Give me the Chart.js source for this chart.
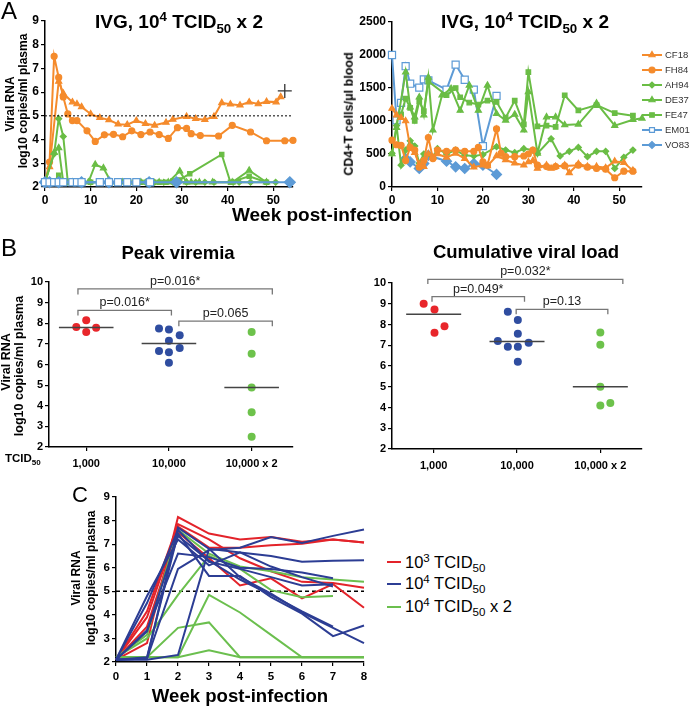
<!DOCTYPE html>
<html>
<head>
<meta charset="utf-8">
<script src="https://cdn.jsdelivr.net/npm/chart.js@4.4.1/dist/chart.umd.min.js"></script>
<style>
body { margin: 0; background: #fff; font-family: "Liberation Sans", Arial, sans-serif; }
#wrap { position: relative; width: 691px; height: 707px; overflow: hidden; }
canvas { position: absolute; }
.t { position: absolute; white-space: nowrap; color: #000; line-height: 1; }
.b { font-weight: bold; }
.c { transform: translateX(-50%); }
.r { transform: translate(-50%, -50%) rotate(-90deg); }
sup, sub { font-size: 0.7em; line-height: 0; }
.sw { position: absolute; width: 14px; height: 1.6px; }
</style>
</head>
<body>
<div id="wrap">
  <canvas id="aLeft"></canvas>
  <canvas id="aRight"></canvas>
  <canvas id="bLeft"></canvas>
  <canvas id="bRight"></canvas>
  <canvas id="cLines"></canvas>

  <div class="t" style="left:1px;top:-1px;font-size:24px;">A</div>
  <div class="t b c" style="left:179px;top:12px;font-size:19px;">IVG, 10<sup>4</sup> TCID<sub>50</sub> x 2</div>
  <div class="t b c" style="left:525px;top:12px;font-size:19px;">IVG, 10<sup>4</sup> TCID<sub>50</sub> x 2</div>
  <div class="t b r" style="left:10px;top:104px;font-size:12px;">Viral RNA</div>
  <div class="t b r" style="left:23px;top:101px;font-size:12px;">log10 copies/ml plasma</div>
  <div class="t b r" style="left:349px;top:114px;font-size:12.5px;">CD4+T cells/μl blood</div>
  <div class="t b c" style="left:322px;top:205px;font-size:19px;">Week post-infection</div>

  <div class="t" style="left:1px;top:236px;font-size:24px;">B</div>
  <div class="t b c" style="left:178px;top:244px;font-size:18.5px;">Peak viremia</div>
  <div class="t b c" style="left:526px;top:243px;font-size:18.5px;">Cumulative viral load</div>
  <div class="t b r" style="left:6px;top:362px;font-size:12.5px;">Viral RNA</div>
  <div class="t b r" style="left:19px;top:366px;font-size:12.5px;">log10 copies/ml plasma</div>
  <div class="t b" style="left:5px;top:453px;font-size:11.5px;">TCID<sub>50</sub></div>

  <div class="t" style="left:72px;top:484px;font-size:22px;">C</div>
  <div class="t b r" style="left:76px;top:578px;font-size:12px;">Viral RNA</div>
  <div class="t b r" style="left:91px;top:578px;font-size:12px;">log10 copies/ml plasma</div>
  <div class="t b c" style="left:240px;top:687px;font-size:18.6px;">Week post-infection</div>
  <div class="sw" style="left:387px;top:561px;background:#E3232A;"></div>
  <div class="t" style="left:405px;top:554px;font-size:16.5px;">10<sup>3</sup> TCID<sub>50</sub></div>
  <div class="sw" style="left:387px;top:583px;background:#2C3D94;"></div>
  <div class="t" style="left:405px;top:575px;font-size:16.5px;">10<sup>4</sup> TCID<sub>50</sub></div>
  <div class="sw" style="left:387px;top:606px;background:#6BBF4E;"></div>
  <div class="t" style="left:405px;top:598px;font-size:16.5px;">10<sup>4</sup> TCID<sub>50</sub> x 2</div>
</div>

<script>
// ---- A left: viral load per animal, [week, log10 copies/ml]
const vlCF18 = [[0,2.2],[1,2.85],[3,6.45],[4,5.95],[6,5.58],[7,5.5],[8,5.38],[10,5.08],[12,4.92],[14,4.83],[16,4.65],[18,4.63],[20,4.8],[22,4.67],[24,4.6],[26.5,4.72],[28,4.85],[31,4.97],[33,4.88],[35,4.84],[37,4.97],[38.7,5.55],[40.6,5.49],[42.7,5.45],[44.7,5.58],[46.7,5.5],[48.5,5.6],[50.6,5.58],[51.6,5.8]];
const vlCF18End = [[52.5,6.05]];
const vlFH84 = [[0,2.2],[1,3.05],[2,7.51],[3,6.62],[4,5.8],[5,5.08],[6,4.8],[7,4.8],[9.2,4.37],[11,3.92],[13,4.2],[15,4.22],[17,4.12],[19,4.37],[21,4.21],[23,4.32],[25,4.21],[27,4.05],[29,4.5],[31,4.47],[32,4.25],[34,4.17],[38,4.15],[41,4.6],[45,4.32],[48.5,3.95],[52.5,3.95],[54.3,3.97]];
const vlAH94 = [[0,2.2],[2,3.4],[3,4.88],[4,4.13],[5,2.2],[6,2.2],[7,2.2],[8,2.2],[10,2.2],[12,2.2],[14,2.2],[16,2.2],[18,2.2],[20,2.2],[22,2.2],[24,2.2],[26,2.2],[28,2.2],[31,2.2],[33,2.2],[35,2.2],[37,2.2],[41.2,2.2],[42.5,2.2],[45,2.2],[48.5,2.2],[50.5,2.2]];
const vlDE37 = [[0,2.2],[2,3.45],[3,3.65],[4,2.2],[5,2.2],[6,2.2],[8,2.2],[9.5,2.2],[11,2.95],[12.8,2.8],[14.5,2.2],[17,2.2],[21,2.2],[25,2.2],[27,2.2],[29.5,2.67],[31,2.2],[32,2.2],[33.8,2.2],[36.7,2.2],[41,2.2],[44.7,2.7],[48.5,2.2]];
const vlFE47 = [[0,2.2],[2,2.2],[3,2.5],[4,2.2],[5,2.2],[6,2.2],[7,2.2],[8,2.2],[10,2.2],[12,2.2],[14,2.2],[16,2.2],[18,2.2],[19.5,2.2],[21,2.2],[23,2.2],[25,2.2],[26.5,2.2],[28,2.25],[29.5,2.3],[31.7,2.56],[38.7,3.37],[40.6,2.2],[44.7,2.45],[48.5,2.2]];
const vlEM01 = [[0,2.2],[1,2.2],[2,2.2],[3,2.2],[4,2.2],[6,2.2],[7,2.2],[8,2.2],[12,2.2],[14,2.2],[16,2.2],[18,2.2],[20,2.2],[23,2.2]];
const vlVO83 = [[0,2.2],[1,2.2],[3,2.2],[8,2.2],[14,2.2],[22.8,2.2],[28.8,2.2],[53.6,2.2]];
const vlThreshold = 5;

// ---- A right: CD4+ T cells/ul, [week, count]
const cdCF18 = [[0,1190],[1,1090],[2,1050],[3,1000],[4,600],[5,520],[6,340],[7,310],[8,500],[9,450],[10,500],[12,450],[14,510],[16,430],[18,300],[20,330],[21,320],[23,470],[25,410],[27,360],[29,330],[30,380],[31,400],[32,280],[34,330],[35,280],[36,310],[38,330],[39,215],[41,350],[43,310],[45,310],[47,290],[49,390],[51,370],[53,250]];
const cdFH84 = [[0,710],[1,640],[2,630],[3,400],[4,600],[5,560],[6,300],[7,400],[8,750],[9,430],[10,560],[12,540],[14,560],[16,540],[18,540],[19,600],[20,380],[21,330],[23,880],[24,510],[25,460],[27,460],[29,470],[30,500],[31,560],[32,330],[34,310],[36,310],[38,320],[41,330],[43,300],[45,280],[47,270],[49,140],[51,240],[53,240]];
const cdAH94 = [[0,510],[1,930],[2,330],[3,560],[4,700],[5,620],[6,360],[7,500],[9,450],[10,580],[12,500],[14,560],[16,480],[18,470],[20,490],[23,610],[25,560],[27,520],[29,580],[31,560],[32,510],[35,730],[37,470],[39,540],[41,600],[43,460],[45,540],[47,540],[49,280],[51,450],[53,560]];
const cdDE37 = [[0,500],[1,900],[3,1740],[4,1210],[5,1060],[6,1360],[7,1090],[8,1660],[9,860],[11,1390],[13,1490],[15,1160],[17,1540],[19,1160],[21,1540],[23,1110],[25,1010],[27,1100],[29,860],[30,1440],[32,510],[34,1060],[36,1060],[38,940],[41,950],[45,1270],[49,930],[53,1020],[55,1040]];
const cdFE47 = [[2,1100],[3,1340],[4,1200],[5,1000],[6,1300],[7,1150],[8,1600],[12,1390],[14,1500],[15,1360],[17,1280],[19,1250],[21,1310],[23,1290],[25,1050],[27,1310],[29,950],[30,1740],[32,920],[34,930],[36,910],[38,1390],[41,1160],[45,1240],[49,1120],[53,1080]];
const cdEM01 = [[0,2000],[1,1010],[2,1275],[3,1830],[4,1565],[6,1505],[7,1630],[8,1615],[12,1475],[14,1855],[16,1625],[18,1475],[20,620],[23,1380]];
const cdVO83 = [[3,430],[4,380],[6,280],[7,355],[8,480],[12,390],[14,305],[16,280],[18,355],[20,330],[23,190]];

// ---- B: dose groups, jittered dots, medians and p-value brackets
const doseLabels = ['1,000', '10,000', '10,000 x 2'];
const peakLow = [7.82, 8.15, 7.57, 7.78];
const peakLowJit = [-0.12, 0, 0, 0.12];
const peakMid = [7.75, 7.7, 7.15, 7.42, 6.65, 6.6, 6.8, 6.08];
const peakMidJit = [-0.12, 0, 0, 0.13, -0.12, 0, 0.13, 0];
const peakHigh = [7.57, 6.52, 4.88, 3.68, 2.5];
const peakHighJit = [0, 0, 0, 0, 0];
const peakMedians = [7.8, 7.02, 4.88];
const peakTests = [
  { from: 0.9, to: 3.25, level: 9.67, drop: 0.27, text: 'p=0.016*' },
  { from: 0.9, to: 2.03, level: 8.62, drop: 0.24, text: 'p=0.016*' },
  { from: 2.12, to: 3.25, level: 8.1, drop: 0.25, text: 'p=0.065' }
];
const cumLow = [9.0, 8.72, 7.6, 7.92];
const cumLowJit = [-0.12, 0.01, 0.01, 0.13];
const cumMid = [8.62, 8.22, 7.55, 7.2, 6.93, 6.93, 7.12, 6.2];
const cumMidJit = [-0.11, 0.01, 0.01, -0.23, -0.11, 0.01, 0.14, 0.01];
const cumHigh = [7.62, 7.02, 5.0, 4.1, 4.22];
const cumHighJit = [0, 0, 0, 0, 0.12];
const cumMedians = [8.5, 7.18, 5.0];
const cumTests = [
  { from: 0.93, to: 3.27, level: 10.17, drop: 0.22, text: 'p=0.032*' },
  { from: 0.98, to: 2.09, level: 9.34, drop: 0.24, text: 'p=0.049*' },
  { from: 1.99, to: 3.09, level: 8.73, drop: 0.23, text: 'p=0.13' }
];

// ---- C: first 8 weeks, one row per animal
const cWeeks = [0, 1, 2, 3, 4, 5, 6, 7, 8];
const cLowDose = [
  [2.1, 2.8, 8.15, 7.45, 7.2, 7.3, 7.1, 7.2, 7.07],
  [2.1, 3.9, 7.75, 6.85, 6.85, 6.95, 7.02, 7.2, 7.07],
  [2.1, 4.15, 7.85, 7.2, 6.4, 5.85, 5.4, 5.35, 5.15],
  [2.1, 3.5, 7.5, 6.4, 5.25, 5.55, 4.7, 5.3, 4.3]
];
const cMidDose = [
  [2.1, 2.15, 7.7, 6.8, 6.65, 6.5, 6.25, 6.3, 6.32],
  [2.1, 4.8, 7.2, 6.1, 6.65, 6.05, 5.6, 5.2],
  [2.1, 3.35, 6.6, 6.45, 6.0, 5.95, 5.8, 5.55],
  [2.1, 2.15, 5.95, 6.75, 6.85, 7.3, 7.05, 7.35, 7.62],
  [2.1, 2.1, 2.3, 6.8, 5.6, 4.9, 4.1, 3.45, 2.8],
  [2.1, 2.2, 7.45, 5.65, 5.65, 4.75, 4.05, 3.1, 3.55],
  [2.1, 4.5, 7.6, 6.25, 5.95, 5.6, 5.25, 5.3],
  [2.1, 3.3, 7.35, 6.3, 5.5, 4.85, 4.15, 3.5]
];
const cHighDose = [
  [2.2, 3.15, 7.6, 6.6, 6.05, 5.85, 5.6, 5.5, 5.4],
  [2.2, 3.0, 4.85, 6.5, 5.95, 5.05, 4.75, 4.8],
  [2.2, 2.2, 3.45, 3.68, 2.2, 2.2, 2.2, 2.2, 2.2],
  [2.2, 2.2, 2.2, 4.85, 4.1, 3.15, 2.2, 2.2, 2.2],
  [2.2, 2.2, 2.2, 2.5, 2.2, 2.2, 2.2, 2.2, 2.2]
];

const ORANGE = '#F58B2C', GREEN = '#6ABD45', LBLUE = '#5D9BD6';
const FONT = '"Liberation Sans", Arial, sans-serif';
Chart.defaults.font.family = FONT;
Chart.defaults.color = '#000';

const pts = arr => arr.map(p => ({ x: p[0], y: p[1] }));

function axis(min, max, step, size, extra) {
  return Object.assign({
    type: 'linear', min: min, max: max,
    border: { display: true, color: '#000', width: 1.5 },
    grid: { display: true, drawOnChartArea: false, drawTicks: true, tickLength: 4, color: '#000', lineWidth: 1.2 },
    ticks: { stepSize: step, includeBounds: false, autoSkip: false, maxRotation: 0, padding: 2,
             color: '#000', font: { size: size, weight: 'bold' }, callback: v => String(v) }
  }, extra || {});
}

function mount(id, area, padT, padR, xH, config) {
  const yW = 45;
  const cv = document.getElementById(id);
  cv.width = area.r - area.l + yW + padR;
  cv.height = area.b - area.t + padT + xH;
  cv.style.left = (area.l - yW) + 'px';
  cv.style.top = (area.t - padT) + 'px';
  const o = config.options;
  o.responsive = false;
  o.devicePixelRatio = 1;
  o.animation = false;
  o.layout = { padding: { top: padT, right: padR, left: 0, bottom: 0 } };
  o.plugins = Object.assign({ legend: { display: false }, tooltip: { enabled: false } }, o.plugins || {});
  o.scales.x.afterFit = s => { s.height = xH; };
  o.scales.y.afterFit = s => { s.width = yW; };
  return new Chart(cv, config);
}

function animal(label, data, color, style, r, fill) {
  return {
    label: label, data: pts(data), showLine: true, tension: 0, clip: false,
    borderColor: color, backgroundColor: color, borderWidth: 2,
    pointStyle: style, pointRadius: r, pointBackgroundColor: fill || color,
    pointBorderColor: color, pointBorderWidth: 1.2
  };
}

// ---------- A left
mount('aLeft', { l: 45, r: 293, t: 21, b: 187 }, 12, 14, 24, {
  type: 'scatter',
  data: { datasets: [
    { data: pts([[0, vlThreshold], [54.3, vlThreshold]]), showLine: true, borderColor: '#000',
      borderWidth: 1, borderDash: [2, 2], pointRadius: 0 },
    animal('EM01', vlEM01, LBLUE, 'rect', 5, '#fff'),
    animal('VO83', vlVO83, LBLUE, 'rectRot', 5.5),
    animal('FE47', vlFE47, GREEN, 'rect', 3),
    animal('DE37', vlDE37, GREEN, 'triangle', 3.5),
    animal('AH94', vlAH94, GREEN, 'rectRot', 3),
    animal('FH84', vlFH84, ORANGE, 'circle', 3),
    animal('CF18', vlCF18, ORANGE, 'triangle', 3.5),
    { data: pts(vlCF18End), pointStyle: 'cross', pointRadius: 7, pointBorderColor: '#333',
      pointBorderWidth: 1.3, clip: false }
  ] },
  options: { scales: {
    x: axis(0, 54.3, 10, 12),
    y: axis(2, 9, 1, 12)
  } }
});

// ---------- A right (with side legend)
const sideLegend = {
  id: 'sideLegend',
  afterDraw(chart) {
    const ctx = chart.ctx, a = chart.chartArea;
    const y0 = chart.scales.y.getPixelForValue(2000);
    chart.data.datasets.forEach((ds, i) => {
      const y = y0 + i * 15, x0 = a.right, x1 = a.right + 20;
      ctx.save();
      ctx.strokeStyle = ds.borderColor; ctx.lineWidth = 2;
      ctx.beginPath(); ctx.moveTo(x0, y); ctx.lineTo(x1, y); ctx.stroke();
      ctx.fillStyle = ds.pointBackgroundColor; ctx.strokeStyle = ds.pointBorderColor; ctx.lineWidth = 1.2;
      Chart.helpers.drawPoint(ctx, { pointStyle: ds.pointStyle, radius: Math.min(ds.pointRadius, 3.5), borderWidth: 1.2, rotation: 0 }, (x0 + x1) / 2, y);
      ctx.fillStyle = '#333'; ctx.font = '9.5px ' + FONT; ctx.textBaseline = 'middle';
      ctx.fillText(ds.label, x1 + 3, y + 0.5);
      ctx.restore();
    });
  }
};
mount('aRight', { l: 392, r: 642, t: 22, b: 187 }, 12, 49, 24, {
  type: 'scatter',
  data: { datasets: [
    animal('CF18', cdCF18, ORANGE, 'triangle', 3.5),
    animal('FH84', cdFH84, ORANGE, 'circle', 3),
    animal('AH94', cdAH94, GREEN, 'rectRot', 3),
    animal('DE37', cdDE37, GREEN, 'triangle', 3.5),
    animal('FE47', cdFE47, GREEN, 'rect', 3.2),
    animal('EM01', cdEM01, LBLUE, 'rect', 5, '#fff'),
    animal('VO83', cdVO83, LBLUE, 'rectRot', 5)
  ] },
  options: { scales: {
    x: axis(0, 55, 10, 12),
    y: axis(0, 2500, 500, 12)
  } },
  plugins: [sideLegend]
});

// ---------- B
const pLabels = {
  id: 'pLabels',
  afterDatasetsDraw(chart, args, opts) {
    const ctx = chart.ctx, xs = chart.scales.x, ys = chart.scales.y;
    ctx.save();
    ctx.font = '12.5px ' + FONT; ctx.fillStyle = '#222';
    ctx.textAlign = 'center'; ctx.textBaseline = 'alphabetic';
    opts.items.forEach(b => ctx.fillText(b.text, xs.getPixelForValue((b.from + b.to) / 2), ys.getPixelForValue(b.level) - 4));
    ctx.restore();
  }
};

function dots(values, jitter, group, color) {
  return { data: values.map((v, i) => ({ x: group + jitter[i], y: v })), pointRadius: 4,
           pointBackgroundColor: color, pointBorderWidth: 0, clip: false };
}
function medians(values) {
  return values.map((m, i) => ({ data: [{ x: i + 1 - 0.33, y: m }, { x: i + 1 + 0.33, y: m }],
    showLine: true, borderColor: '#444', borderWidth: 1.5, pointRadius: 0 }));
}
function brackets(tests) {
  return tests.map(b => ({ data: [{ x: b.from, y: b.level - b.drop }, { x: b.from, y: b.level },
    { x: b.to, y: b.level }, { x: b.to, y: b.level - b.drop }],
    showLine: true, borderColor: '#777', borderWidth: 1.3, pointRadius: 0, clip: false }));
}
function doseAxis(min, max) {
  return axis(min, max, 1, 11, {
    afterBuildTicks: s => { s.ticks = [1, 2, 3].map(v => ({ value: v })); },
    ticks: { autoSkip: false, maxRotation: 0, padding: 6, color: '#000', font: { size: 11, weight: 'bold' },
             callback: v => doseLabels[v - 1] }
  });
}

mount('bLeft', { l: 49, r: 293, t: 282, b: 447 }, 30, 12, 26, {
  type: 'scatter',
  data: { datasets: [].concat(
    brackets(peakTests), medians(peakMedians),
    [dots(peakLow, peakLowJit, 1, '#E8262B'), dots(peakMid, peakMidJit, 2, '#2F4DA0'), dots(peakHigh, peakHighJit, 3, '#6DC24B')]
  ) },
  options: { scales: { x: doseAxis(0.55, 3.5), y: axis(2, 10, 1, 11) },
             plugins: { pLabels: { items: peakTests } } },
  plugins: [pLabels]
});

mount('bRight', { l: 392, r: 642, t: 283, b: 449 }, 30, 12, 26, {
  type: 'scatter',
  data: { datasets: [].concat(
    brackets(cumTests), medians(cumMedians),
    [dots(cumLow, cumLowJit, 1, '#E8262B'), dots(cumMid, cumMidJit, 2, '#2F4DA0'), dots(cumHigh, cumHighJit, 3, '#6DC24B')]
  ) },
  options: { scales: { x: doseAxis(0.5, 3.5), y: axis(2, 10, 1, 11) },
             plugins: { pLabels: { items: cumTests } } },
  plugins: [pLabels]
});

// ---------- C
function course(rows, color) {
  return rows.map(r => ({ data: r.map((v, i) => ({ x: cWeeks[i], y: v })), showLine: true, tension: 0,
    borderColor: color, borderWidth: 2, pointRadius: 0, clip: false }));
}
mount('cLines', { l: 116, r: 364, t: 497, b: 662 }, 12, 12, 24, {
  type: 'scatter',
  data: { datasets: [].concat(
    course(cMidDose, '#2C3D94'), course(cHighDose, '#6BBF4E'), course(cLowDose, '#E3232A'),
    [{ data: [{ x: 0, y: vlThreshold }, { x: 8, y: vlThreshold }], showLine: true, borderColor: '#000',
       borderWidth: 1.5, borderDash: [4, 3], pointRadius: 0 }]
  ) },
  options: { scales: {
    x: axis(0, 8, 1, 11.5, { ticks: { stepSize: 1, includeBounds: false, padding: 4, color: '#000',
                                      font: { size: 11.5, weight: 'bold' }, callback: v => String(v) } }),
    y: axis(2, 9, 1, 11.5)
  } }
});
</script>
</body>
</html>
